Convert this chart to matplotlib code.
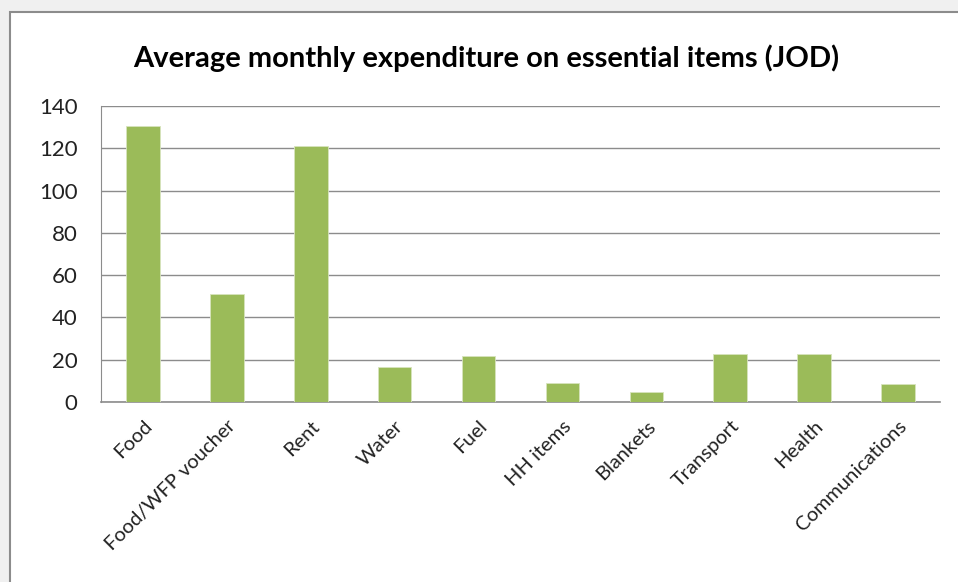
import matplotlib.pyplot as plt
from matplotlib.patches import Rectangle
import numpy as np

plt.rcParams['font.family'] = ['Lato', 'DejaVu Sans']

categories = ["Food", "Food/WFP voucher", "Rent", "Water", "Fuel", "HH items",
              "Blankets", "Transport", "Health", "Communications"]
values = [130.5, 51, 121, 16.5, 21.8, 9.1, 4.9, 22.5, 22.5, 8.6]
yticks = [0, 20, 40, 60, 80, 100, 120, 140]

fig = plt.figure(figsize=(9.58, 5.82), dpi=100)
fig.patch.set_facecolor('#f0f0f0')
# white chart area with grey frame
fig.patches.append(Rectangle((10 / 958, -0.01), 1.0, (582 - 12) / 582 + 0.01,
                             transform=fig.transFigure, facecolor='white',
                             edgecolor='#8c8c8c', linewidth=1.5, zorder=-5))

ax = fig.add_axes([101 / 958, 1 - 402 / 582, 839 / 958, 296 / 582])
ax.set_facecolor('white')
x = np.arange(len(categories))
ax.bar(x, values, width=0.4, color='#9bbb59', edgecolor='#d7e4bd', linewidth=0.6, zorder=3)

ax.set_xlim(-0.5, len(categories) - 0.5)
ax.set_ylim(0, 140)
ax.set_yticks(yticks)
ax.set_yticklabels([str(t) for t in yticks], fontsize=16, color='#222222')
ax.set_xticks(x)
ax.set_xticklabels(categories, rotation=45, ha='right', rotation_mode='anchor',
                   fontsize=14.5, color='#222222')
ax.tick_params(length=0)
ax.tick_params(axis='y', pad=17)
ax.tick_params(axis='x', pad=11)
ax.grid(axis='y', color='#8c8c8c', linewidth=1.0, zorder=0)
for side in ['top', 'right']:
    ax.spines[side].set_visible(False)
ax.spines['left'].set_color('#8c8c8c')
ax.spines['bottom'].set_color('#8c8c8c')
ax.spines['bottom'].set_linewidth(1.2)

fig.text(486 / 958, 1 - 58 / 582, "Average monthly expenditure on essential items (JOD)",
         ha='center', va='center', fontsize=21, fontweight='bold')

fig.savefig('out.png', dpi=100, facecolor=fig.get_facecolor())
